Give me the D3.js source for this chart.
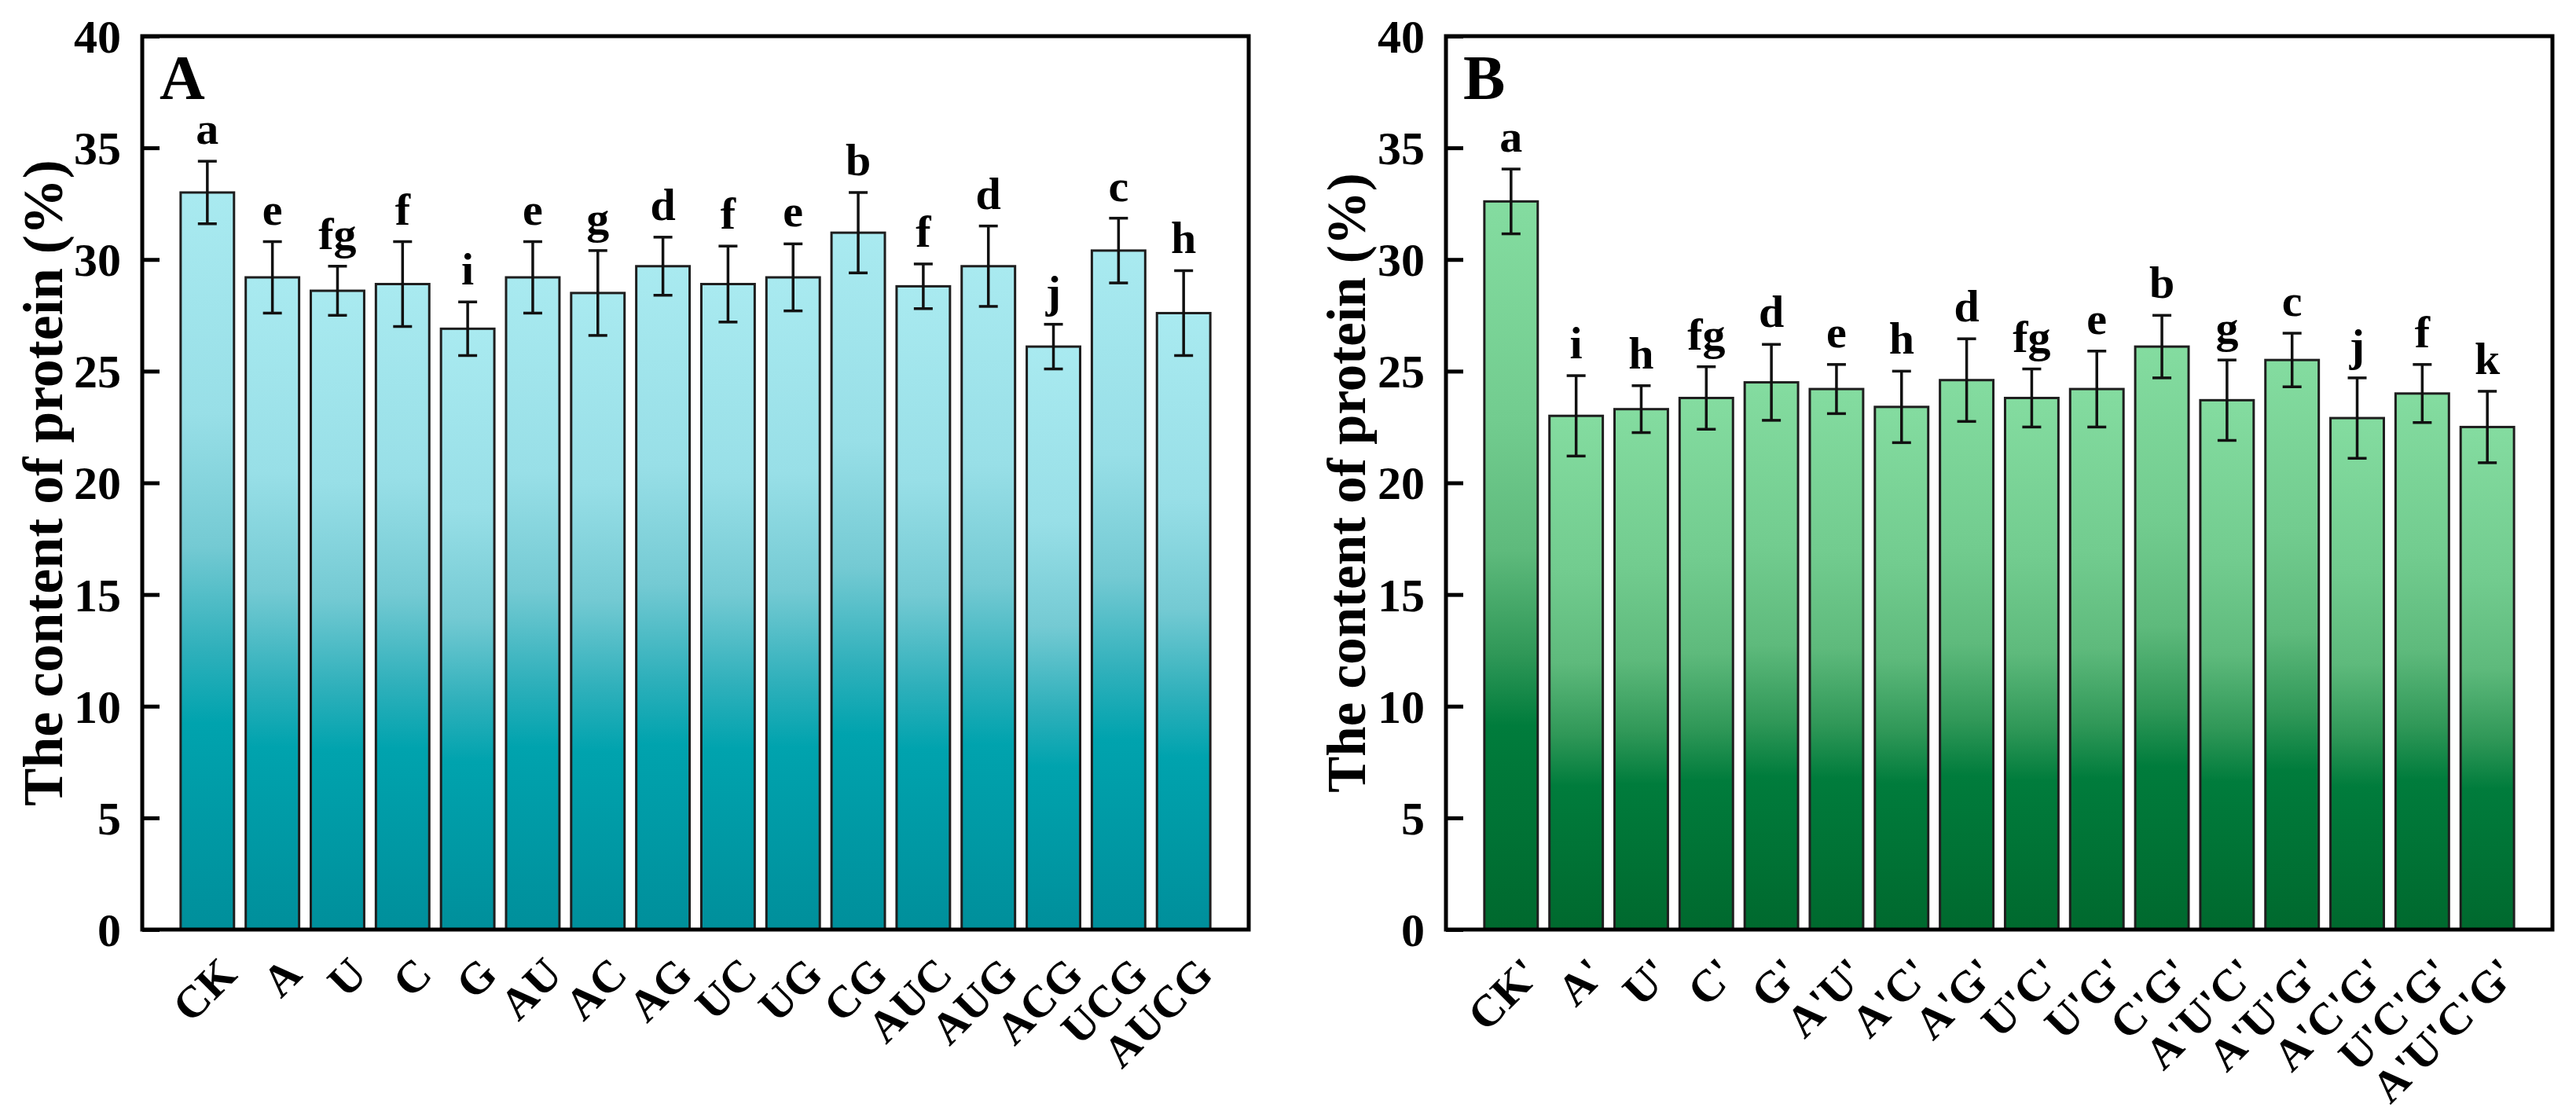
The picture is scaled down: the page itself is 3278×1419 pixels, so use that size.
<!doctype HTML>
<html>
<head>
    <script src="https://d3js.org/d3.v7.min.js"></script>
    <style>
        body { margin: 0; background: #fff; }
        text { font-family: "Liberation Serif", "Times New Roman", serif; }
    </style>
</head>
<body>
<script>

    // treatments and values
    var labelsA = ["CK", "A", "U", "C", "G", "AU", "AC", "AG", "UC", "UG", "CG", "AUC", "AUG", "ACG", "UCG", "AUCG"];
    var meansA = [33.0, 29.2, 28.6, 28.9, 26.9, 29.2, 28.5, 29.7, 28.9, 29.2, 31.2, 28.8, 29.7, 26.1, 30.4, 27.6];
    var errA = [1.4, 1.6, 1.1, 1.9, 1.2, 1.6, 1.9, 1.3, 1.7, 1.5, 1.8, 1.0, 1.8, 1.0, 1.45, 1.9];
    var lettersA = ["a", "e", "fg", "f", "i", "e", "g", "d", "f", "e", "b", "f", "d", "j", "c", "h"];

    var labelsB = ["CK'", "A'", "U'", "C'", "G'", "A'U'", "A'C'", "A'G'", "U'C'", "U'G'", "C'G'", "A'U'C'", "A'U'G'", "A'C'G'", "U'C'G'", "A'U'C'G'"];
    var meansB = [32.6, 23.0, 23.3, 23.8, 24.5, 24.2, 23.4, 24.6, 23.8, 24.2, 26.1, 23.7, 25.5, 22.9, 24.0, 22.5];
    var errB = [1.45, 1.8, 1.05, 1.4, 1.7, 1.1, 1.6, 1.85, 1.3, 1.7, 1.4, 1.8, 1.2, 1.8, 1.3, 1.6];
    var lettersB = ["a", "i", "h", "fg", "d", "e", "h", "d", "fg", "e", "b", "g", "c", "j", "f", "k"];

    var yTicks = [0, 5, 10, 15, 20, 25, 30, 35, 40];
    var yTitle = "The content of protein (%)";

    var W = 3278, H = 1419;
    var top_ = 46, bottom_ = 1183, panelW = 1408;

    var svg = d3.select("body")
        .append("svg")
        .attr("width", W)
        .attr("height", H);

    // vertical gradients, one per panel (per bar bounding box)
    var defs = svg.append("defs");
    function addGradient(id, stops) {
        var grad = defs.append("linearGradient")
            .attr("id", id)
            .attr("x1", 0).attr("y1", 0)
            .attr("x2", 0).attr("y2", 1);
        stops.forEach(function(s) {
            grad.append("stop").attr("offset", s[0]).attr("stop-color", s[1]);
        });
    }
    addGradient("gradA", [[0, "#a9eaf0"], [0.3, "#98dfe7"], [0.48, "#74cad3"], [0.62, "#2fb0bb"], [0.72, "#00a3ae"], [1, "#008f9b"]]);
    addGradient("gradB", [[0, "#84dca0"], [0.3, "#72cc8f"], [0.48, "#5eba7c"], [0.62, "#309858"], [0.72, "#007c3c"], [1, "#00692e"]]);

    function drawPanel(left, labels, means, errs, letters, gradId, tag, titleSize) {
        var g = svg.append("g").attr("transform", "translate(" + left + "," + top_ + ")");
        var h = bottom_ - top_;

        var x = d3.scaleBand()
            .domain(labels)
            .range([0, panelW])
            .paddingInner(0.18)
            .paddingOuter(0.59);
        var y = d3.scaleLinear()
            .domain([0, 40])
            .range([h, 0]);

        // bars
        g.selectAll(".bar")
            .data(labels)
            .enter().append("rect")
            .attr("class", "bar")
            .attr("x", function(d) { return x(d); })
            .attr("y", function(d, i) { return y(means[i]); })
            .attr("width", x.bandwidth())
            .attr("height", function(d, i) { return h - y(means[i]); })
            .attr("fill", "url(#" + gradId + ")")
            .attr("stroke", "#1e1e1e")
            .attr("stroke-width", 3);

        // error bars
        var cx = function(d) { return x(d) + x.bandwidth() / 2; };
        var eb = g.selectAll(".err")
            .data(labels)
            .enter().append("g")
            .attr("class", "err")
            .attr("stroke", "#111")
            .attr("stroke-width", 3.5);
        eb.append("line")
            .attr("x1", cx).attr("x2", cx)
            .attr("y1", function(d, i) { return y(means[i] + errs[i]); })
            .attr("y2", function(d, i) { return y(means[i] - errs[i]); });
        eb.append("line")
            .attr("x1", function(d) { return cx(d) - 12; })
            .attr("x2", function(d) { return cx(d) + 12; })
            .attr("y1", function(d, i) { return y(means[i] + errs[i]); })
            .attr("y2", function(d, i) { return y(means[i] + errs[i]); });
        eb.append("line")
            .attr("x1", function(d) { return cx(d) - 12; })
            .attr("x2", function(d) { return cx(d) + 12; })
            .attr("y1", function(d, i) { return y(means[i] - errs[i]); })
            .attr("y2", function(d, i) { return y(means[i] - errs[i]); });

        // significance letters
        g.selectAll(".sig")
            .data(labels)
            .enter().append("text")
            .attr("class", "sig")
            .attr("x", cx)
            .attr("y", function(d, i) { return y(means[i] + errs[i]) - 22; })
            .attr("text-anchor", "middle")
            .attr("font-size", "58px")
            .attr("font-weight", "bold")
            .text(function(d, i) { return letters[i]; });

        // y axis, ticks pointing inwards
        var yAxis = g.append("g")
            .call(d3.axisLeft(y).tickValues(yTicks).tickSizeInner(-22).tickSizeOuter(0).tickPadding(27));
        yAxis.select(".domain").remove();
        yAxis.selectAll(".tick line").attr("stroke", "#000").attr("stroke-width", 5);
        yAxis.selectAll(".tick text")
            .attr("font-size", "60px")
            .attr("font-weight", "bold")
            .attr("fill", "#000")
            .attr("dy", "0.34em")
            .style("font-family", "'Liberation Serif', serif");

        // x axis, rotated labels
        var xAxis = g.append("g")
            .attr("transform", "translate(0," + h + ")")
            .call(d3.axisBottom(x).tickSize(0));
        xAxis.select(".domain").remove();
        xAxis.selectAll(".tick text")
            .attr("y", 0)
            .attr("dy", 0)
            .attr("transform", "translate(40,60) rotate(-45)")
            .style("text-anchor", "end")
            .style("font-family", "'Liberation Serif', serif")
            .attr("font-size", "57px")
            .attr("font-weight", "bold")
            .attr("fill", "#000");

        // frame
        g.append("rect")
            .attr("x", 0).attr("y", 0)
            .attr("width", panelW).attr("height", h)
            .attr("fill", "none")
            .attr("stroke", "#000")
            .attr("stroke-width", 5);

        // y title
        g.append("text")
            .attr("transform", "translate(-127," + (h / 2) + ") rotate(-90)")
            .attr("text-anchor", "middle")
            .attr("dy", "0.35em")
            .attr("font-size", titleSize + "px")
            .attr("font-weight", "bold")
            .text(yTitle);

        // panel tag
        g.append("text")
            .attr("x", 22)
            .attr("y", 80)
            .attr("font-size", "80px")
            .attr("font-weight", "bold")
            .text(tag);
    }

    drawPanel(181, labelsA, meansA, errA, lettersA, "gradA", "A", 72);
    drawPanel(1840, labelsB, meansB, errB, lettersB, "gradB", "B", 69);

</script>
</body>
</html>
